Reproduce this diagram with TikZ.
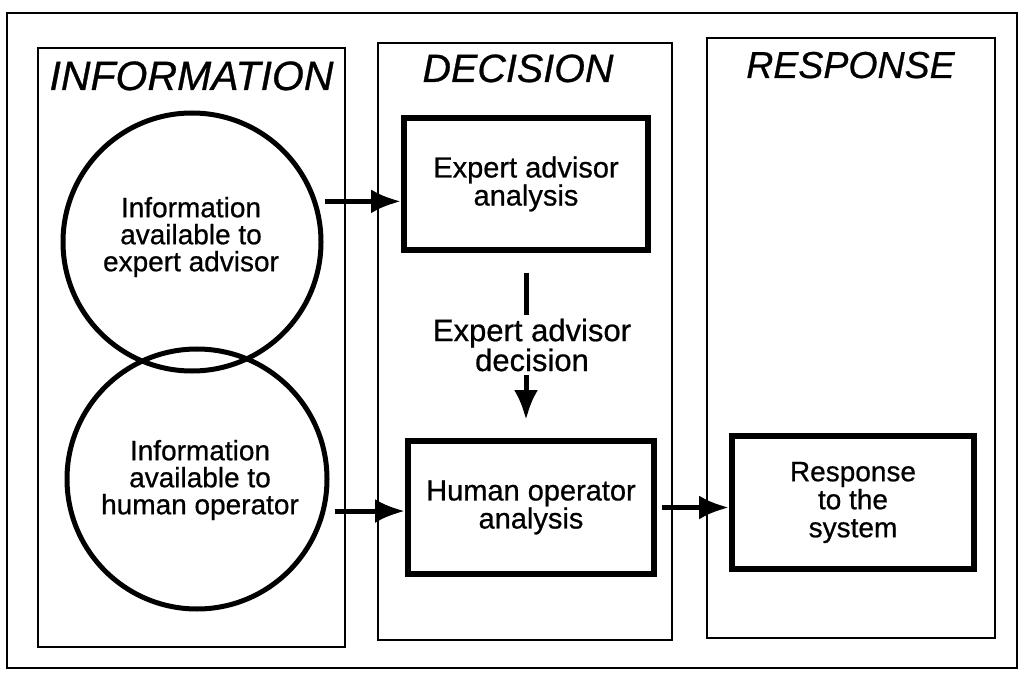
\documentclass[tikz,border=0pt]{standalone}
\usepackage{fontspec}
\setmainfont{Liberation Sans}[FakeBold=0.7]
\usetikzlibrary{arrows.meta}
\begin{document}
\begin{tikzpicture}[x=1pt,y=-1pt,
  panel/.style={draw, line width=2pt},
  circ/.style={draw, circle, line width=5pt, inner sep=0pt},
  box/.style={draw, line width=6pt, inner sep=0pt, align=center, font=\fontsize{29}{25}\selectfont},
  title/.style={anchor=base, inner sep=0pt},
  ctext/.style={align=center, font=\fontsize{28}{27}\selectfont, inner sep=0pt},
  arr/.style={line width=5pt, -{Latex[length=30pt,width=24pt]}},
  lw/.style={line width=5pt}]
\useasboundingbox (0,0) rectangle (1023,676);
\draw[line width=2.5pt] (7,13) rectangle (1017,668);
% panels
\draw[panel] (38,48) rectangle (345,647);
\draw[panel] (378,43) rectangle (672,640);
\draw[panel] (707,38) rectangle (995,638);
% titles
\node[title, font=\fontsize{41}{42}\selectfont\itshape] (tinfo) at (191.5,90) {INFORMATION};
\node[title, font=\fontsize{39.5}{40}\selectfont\itshape] (tdec) at (518,82) {DECISION};
\node[title, font=\fontsize{37.5}{38}\selectfont\itshape] (tresp) at (850.5,78) {RESPONSE};
% circles
\node[circ, minimum size=258pt] (c1) at (192,242) {};
\node[ctext] (t1) at (191,237) {Information\\available to\\expert advisor};
\node[circ, minimum size=260pt] (c2) at (197,479) {};
\node[ctext] (t2) at (200,480) {Information\\available to\\human operator};
% boxes
\node[box, minimum width=244pt, minimum height=132pt] (b1) at (526,184) {Expert advisor\\analysis};
\node[box, minimum width=246pt, minimum height=133pt] (b2) at (531,507.5) {Human operator\\analysis};
\node[box, minimum width=242pt, minimum height=133pt, font=\fontsize{28}{28}\selectfont] (b3) at (853,502.5) {Response\\to the\\system};
\node[align=center, font=\fontsize{31}{24}\selectfont, inner sep=0pt, minimum height=60pt] (dec) at (532,345) {Expert advisor\\decision};
% connectors
\draw[arr, shorten <=8pt] (c1.18) -- (c1.18 -| b1.west);
\draw[arr, shorten <=9pt] (c2.-14) -- (c2.-14 -| b2.west);
\draw[arr, shorten <=5pt] (b2.east) -- (b2.east -| b3.west);
\draw[lw, shorten <=20pt] (b1.south) -- (b1.south |- dec.north);
\draw[arr, shorten >=18pt] (b1.south |- dec.south) -- (b1.south |- b2.north);
\end{tikzpicture}
\end{document}
